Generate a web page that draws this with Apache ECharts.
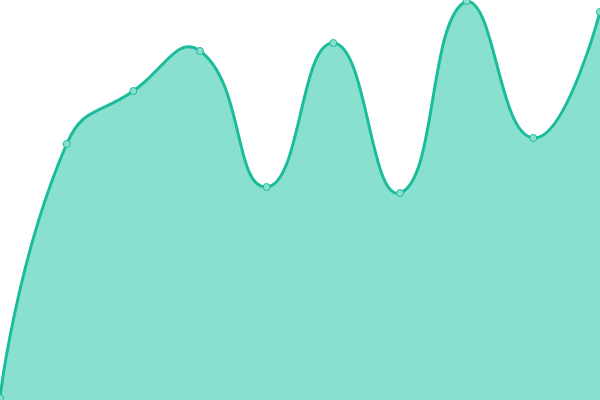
<!DOCTYPE html>
<html>
<head>
  <meta charset="utf-8" />
  <script src="https://cdn.jsdelivr.net/npm/echarts@6/dist/echarts.min.js"></script>
</head>
<body style="margin:0">
  <div id="main" style="width: 600px;height:400px;"></div>
  <script type="text/javascript">
    // points along the x axis and their values
    var categories = ['1', '2', '3', '4', '5', '6', '7', '8', '9', '10'];
    var values = [2, 256, 309, 349, 213, 357, 207, 399, 262, 388];

    var lineColor = '#1bbc9b';
    var areaColor = '#8ae0cf';
    var smooth = 0.5;

    // old-style bezier smoothing (lets the curve overshoot at the peaks)
    function buildPath(pts) {
      var minX = Infinity, maxX = -Infinity, minY = Infinity, maxY = -Infinity;
      pts.forEach(function (p) {
        minX = Math.min(minX, p[0]); maxX = Math.max(maxX, p[0]);
        minY = Math.min(minY, p[1]); maxY = Math.max(maxY, p[1]);
      });
      var cps = [];
      for (var i = 0; i < pts.length; i++) {
        var p = pts[i];
        if (i === 0 || i === pts.length - 1) {
          cps.push([p, p]);
          continue;
        }
        var prev = pts[i - 1];
        var next = pts[i + 1];
        var vx = (next[0] - prev[0]) * smooth;
        var vy = (next[1] - prev[1]) * smooth;
        var d0 = Math.hypot(p[0] - prev[0], p[1] - prev[1]);
        var d1 = Math.hypot(p[0] - next[0], p[1] - next[1]);
        var sum = d0 + d1;
        if (sum) { d0 /= sum; d1 /= sum; }
        var c0 = [p[0] - vx * d0, p[1] - vy * d0];
        var c1 = [p[0] + vx * d1, p[1] + vy * d1];
        [c0, c1].forEach(function (c) {
          c[0] = Math.min(Math.max(c[0], minX), maxX);
          c[1] = Math.min(Math.max(c[1], minY), maxY);
        });
        cps.push([c0, c1]);
      }
      var d = 'M' + pts[0][0] + ' ' + pts[0][1];
      for (var j = 1; j < pts.length; j++) {
        var a = cps[j - 1][1], b = cps[j][0], q = pts[j];
        d += ' C' + a[0] + ' ' + a[1] + ' ' + b[0] + ' ' + b[1] + ' ' + q[0] + ' ' + q[1];
      }
      return d;
    }

    var myChart = echarts.init(document.getElementById('main'));
    var option = {
      animation: false,
      grid: { left: 0, right: 0, top: 0, bottom: 0 },
      xAxis: {
        type: 'category',
        boundaryGap: false,
        data: categories,
        show: false
      },
      yAxis: {
        type: 'value',
        min: 0,
        max: 400,
        show: false
      },
      series: [{
        type: 'custom',
        z: 1,
        clip: false,
        data: values.map(function (v, i) { return [i, v]; }),
        renderItem: function (params, api) {
          if (params.dataIndex !== 0) return null;
          var pts = values.map(function (v, i) { return api.coord([i, v]); });
          var line = buildPath(pts);
          var base = api.coord([0, 0])[1];
          var last = pts[pts.length - 1];
          var area = line + ' L' + last[0] + ' ' + base + ' L' + pts[0][0] + ' ' + base + ' Z';
          return {
            type: 'group',
            children: [{
              type: 'path',
              shape: { pathData: area },
              style: { fill: areaColor, stroke: null }
            }, {
              type: 'path',
              shape: { pathData: line },
              style: { fill: null, stroke: lineColor, lineWidth: 3 }
            }]
          };
        }
      }, {
        type: 'line',
        z: 3,
        data: values,
        symbol: 'circle',
        symbolSize: 7,
        itemStyle: { color: areaColor, borderColor: lineColor, borderWidth: 1 },
        lineStyle: { width: 0, opacity: 0 }
      }]
    };
    myChart.setOption(option);
  </script>
</body>
</html>
